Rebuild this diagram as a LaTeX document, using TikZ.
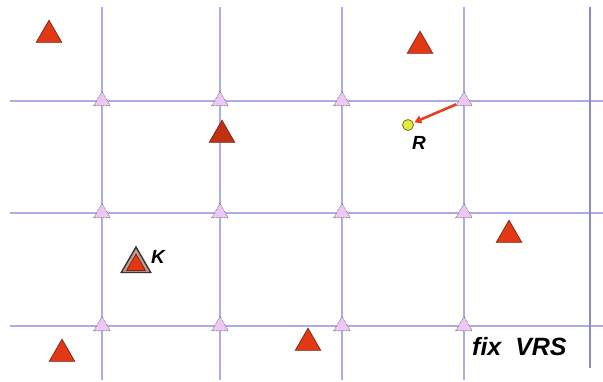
\documentclass[tikz,border=0pt]{standalone}
\usepackage{fontspec}
\setmainfont{Liberation Sans}
\usetikzlibrary{shapes.geometric,arrows.meta}
\definecolor{gridblue}{RGB}{172,172,232}
\definecolor{gridgray}{RGB}{140,140,190}
\definecolor{trired}{RGB}{226,56,22}
\definecolor{tridark}{RGB}{120,35,20}
\definecolor{refpink}{RGB}{236,200,242}
\definecolor{arrred}{RGB}{232,64,30}
\definecolor{roveryel}{RGB}{226,236,60}
\tikzset{
  gridline/.style={draw=gridblue, line width=2.1pt},
  refstn/.style={regular polygon, regular polygon sides=3, minimum size=19pt, inner sep=0pt,
    fill=refpink, draw=black!70, densely dotted, line width=0.6pt},
  rovtri/.style={regular polygon, regular polygon sides=3, minimum size=29.5pt, inner sep=0pt,
    fill=trired, draw=tridark, line width=0.7pt},
  lbl/.style={font=\bfseries\itshape, inner sep=0pt}
}
\begin{document}
\begin{tikzpicture}[x=1pt,y=-1pt]
\useasboundingbox (0,0) rectangle (603,381);
\fill[white] (0,0) rectangle (603,381);
% grid
\foreach \yy/\nm in {101/a,213/b,326/c}{
  \coordinate (h\nm l) at (10,\yy);
  \coordinate (h\nm r) at (603,\yy);
  \draw[gridline] (h\nm l) -- (h\nm r);
}
\foreach \xx/\nm in {102/a,220/b,342/c,464/d}{
  \coordinate (v\nm t) at (\xx,7);
  \coordinate (v\nm b) at (\xx,380);
  \draw[gridline] (v\nm t) -- (v\nm b);
}
\coordinate (vet) at (590,7);
\coordinate (veb) at (590,368);
\draw[gridline, draw=gridgray, line width=1.6pt] (vet) -- (veb);
% reference stations
\foreach \xx/\cn in {102/1,220/2,342/3,464/4}{
  \foreach \yy/\rn in {101/1,213/2,326/3}{
    \node[refstn] (s\cn\rn) at (\xx,\yy) {};
  }
}
% rover triangles
\node[rovtri] (t1) at (49,35) {};
\node[rovtri] (t2) at (420,46) {};
\node[rovtri, fill=trired!85!black] (t3) at (222,135) {};
\node[rovtri] (t4) at (509,235) {};
\node[rovtri] (t5) at (62,354) {};
\node[rovtri] (t6) at (308,343) {};
% K
\node[regular polygon, regular polygon sides=3, minimum size=34pt, inner sep=0pt,
  fill=tridark!45!white, draw=black!80, line width=1.4pt] (kout) at (136,264) {};
\node[rovtri, minimum size=22pt] (kin) at (136,265) {};
\node[lbl, font=\bfseries\itshape\fontsize{19}{19}\selectfont, anchor=west] (klbl) at (151,257) {K};
% R
\node[circle, minimum size=11pt, inner sep=0pt, fill=roveryel, draw=olive!80!black, line width=0.8pt] (rov) at (408,125) {};
\node[lbl, font=\bfseries\itshape\fontsize{19}{19}\selectfont] (rlbl) at (419,143) {R};
\draw[arrred, line width=2.6pt, -{Triangle[length=7pt,width=8pt]}, shorten >=1pt] (s41) -- (rov);
% fix VRS
\node[lbl, font=\bfseries\itshape\fontsize{25}{25}\selectfont, anchor=west] (fix) at (472,347) {fix\ \ VRS};
\end{tikzpicture}
\end{document}
